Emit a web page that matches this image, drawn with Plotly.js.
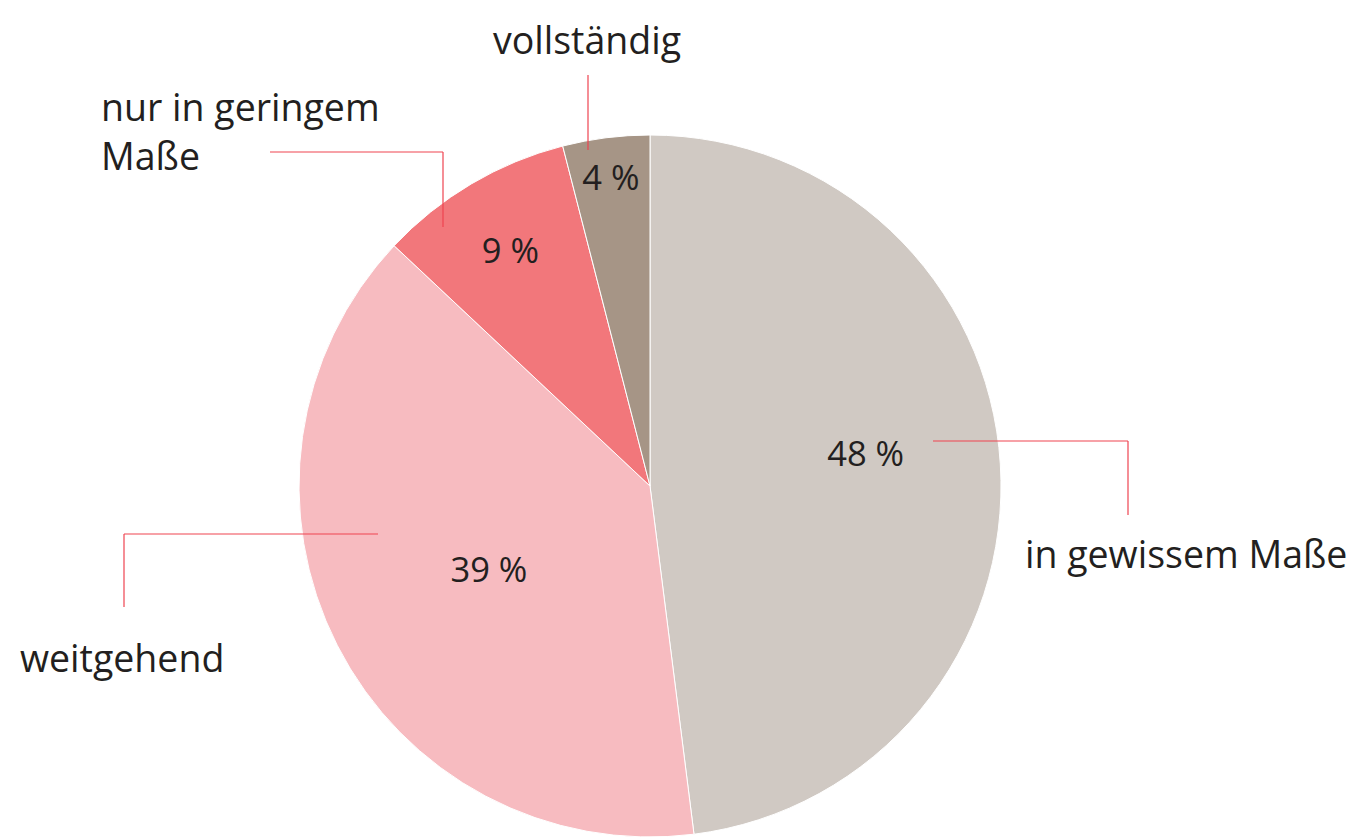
<!DOCTYPE html>
<html>
<head>
<meta charset="utf-8">
<script src="https://cdn.plot.ly/plotly-3.0.1.min.js"></script>
<style>
  html, body { margin: 0; padding: 0; background: #fff; }
  #chart { width: 1348px; height: 838px; }
</style>
</head>
<body>
<div id="chart"></div>
<script>
var categories = ['in gewissem Maße', 'weitgehend', 'nur in geringem Maße', 'vollständig'];
var shares = [48, 39, 9, 4];
var sliceColors = ['#d0c9c3', '#f7bbc0', '#f2777b', '#a69586'];

var font = '"Open Sans", Lato, sans-serif';
var ink = '#231f20';
var red = '#ef4450';

// the big slice's label sits further out and higher in the original
var nb = '\u00a0';
var sliceText = shares.map(function (v, i) {
  if (i === 0) return nb.repeat(9) + v + ' %<br>' + nb;
  return v + ' %';
});

var pie = {
  type: 'pie',
  values: shares,
  labels: categories,
  text: sliceText,
  sort: false,
  direction: 'clockwise',
  rotation: 0,
  marker: { colors: sliceColors, line: { color: '#ffffff', width: 1 } },
  textinfo: 'text',
  textposition: 'inside',
  insidetextorientation: 'horizontal',
  textfont: { family: font, size: 34.5, color: ink },
  hoverinfo: 'label+value',
  domain: { x: [0.2218, 0.7426], y: [0.0012, 0.8389] },
  showlegend: false
};

function seg(x0, y0, x1, y1) {
  return { type: 'line', xref: 'paper', yref: 'paper',
    x0: x0 / 1348, y0: 1 - y0 / 838, x1: x1 / 1348, y1: 1 - y1 / 838,
    line: { color: red, width: 1.2 } };
}

function label(text, x, y, anchor) {
  return { text: text, xref: 'paper', yref: 'paper', x: x / 1348, y: 1 - y / 838,
    xanchor: anchor, yanchor: 'middle', showarrow: false, align: 'left',
    font: { family: font, size: 37.5, color: ink } };
}

var layout = {
  width: 1348,
  height: 838,
  margin: { l: 0, r: 0, t: 0, b: 0 },
  paper_bgcolor: '#ffffff',
  shapes: [
    seg(933, 441, 1128, 441), seg(1128, 441, 1128, 515),
    seg(378, 534, 124, 534), seg(124, 534, 124, 607),
    seg(443, 227, 443, 152), seg(443, 152, 270, 152),
    seg(588, 150, 588, 75)
  ],
  annotations: [
    label(categories[0], 1023, 553, 'left'),
    label(categories[1], 18, 657, 'left'),
    label('nur in geringem<br>Maße', 99, 131, 'left'),
    label(categories[3], 491, 40, 'left')
  ]
};

Plotly.newPlot('chart', [pie], layout, { displayModeBar: false });
</script>
</body>
</html>
